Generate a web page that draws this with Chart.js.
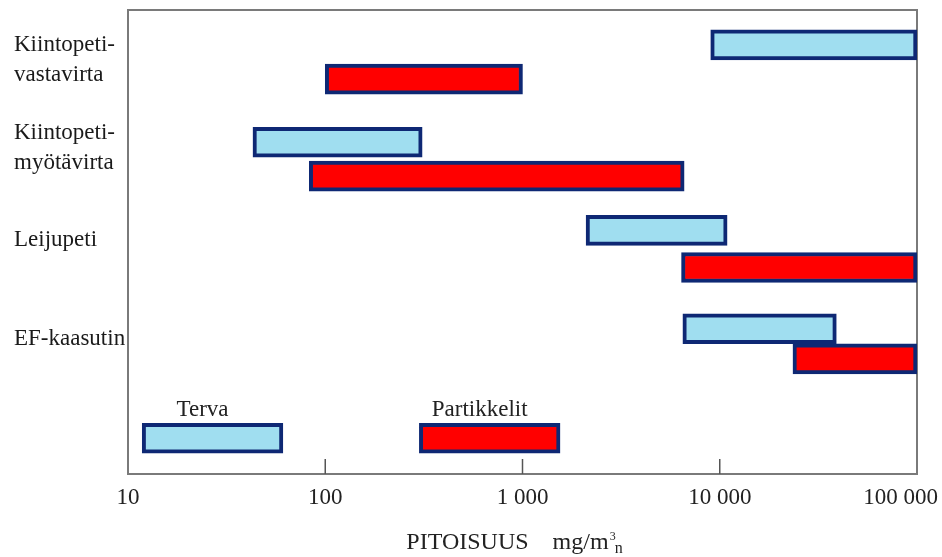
<!DOCTYPE html>
<html>
<head>
<meta charset="utf-8">
<script src="https://cdn.jsdelivr.net/npm/chart.js@4/dist/chart.umd.min.js"></script>
<style>
  html, body { margin: 0; padding: 0; background: #fff; }
  #wrap { width: 942px; height: 557px; }
</style>
</head>
<body>
<div id="wrap"><canvas id="chart"></canvas></div>
<script>
// row labels on the left and where they sit on the (reversed) row axis
const rowLabels = [["Kiintopeti-", "vastavirta"], ["Kiintopeti-", "myötävirta"], "Leijupeti", "EF-kaasutin"];
const rowLabelPos = [1.08, 2.97, 4.95, 7.08];

// tar (Terva) ranges, mg/m3n
const tarPos = [0.75, 2.85, 4.75, 6.87];
const tarRange = [[9000, 100000], [43, 310], [2100, 10900], [6500, 39000]];

// particle (Partikkelit) ranges, mg/m3n
const partPos = [1.49, 3.58, 5.55, 7.52];
const partRange = [[100, 1000], [83, 6600], [6400, 100000], [23500, 100000]];

// key bars at the bottom
const keyPos = 9.23;
const keyNames = ["Terva", "Partikkelit"];
const keyRange = [[11.8, 61], [300, 1550]];

// x axis
const xTicks = [10, 100, 1000, 10000, 100000];
const xTickLabels = ["10", "100", "1 000", "10 000", "100 000"];
const innerTicks = [100, 1000, 10000];

const SERIF = '"Liberation Serif", "Times New Roman", serif';
const navy = "#0e2874";

const tarData = tarRange.map((r, i) => ({ x: r, y: tarPos[i] }));
tarData.push({ x: keyRange[0], y: keyPos });
const partData = partRange.map((r, i) => ({ x: r, y: partPos[i] }));
partData.push({ x: keyRange[1], y: keyPos });

const framePlugin = {
  id: "frame",
  beforeDatasetsDraw(chart) {
    const { ctx, chartArea: a } = chart;
    ctx.save();
    ctx.strokeStyle = "#7a7a7a";
    ctx.lineWidth = 2;
    ctx.strokeRect(a.left, a.top, a.right - a.left, a.bottom - a.top);
    ctx.restore();
  },
  afterDraw(chart) {
    const { ctx, chartArea: a } = chart;
    const x = chart.scales.x;
    ctx.save();
    // short ticks pointing into the plot
    ctx.strokeStyle = "#555";
    ctx.lineWidth = 1.5;
    innerTicks.forEach(v => {
      const px = x.getPixelForValue(v);
      ctx.beginPath();
      ctx.moveTo(px, a.bottom);
      ctx.lineTo(px, a.bottom - 15);
      ctx.stroke();
    });
    // tick labels
    ctx.fillStyle = "#222";
    ctx.font = "23px " + SERIF;
    ctx.textAlign = "center";
    ctx.textBaseline = "middle";
    xTicks.forEach((v, i) => {
      const w = ctx.measureText(xTickLabels[i]).width;
      let px = x.getPixelForValue(v);
      px = Math.min(px, chart.width - 4 - w / 2);
      ctx.fillText(xTickLabels[i], px, a.bottom + 24);
    });
    // axis title: PITOISUUS   mg/m3n
    const base = a.bottom + 75;
    ctx.textAlign = "left";
    ctx.textBaseline = "alphabetic";
    ctx.font = "24px " + SERIF;
    const t1 = "PITOISUUS", t2 = "mg/m";
    const w1 = ctx.measureText(t1).width, w2 = ctx.measureText(t2).width;
    ctx.font = "12px " + SERIF;
    const w3 = ctx.measureText("3").width;
    ctx.font = "16px " + SERIF;
    const w4 = ctx.measureText("n").width;
    const gap = 24;
    let tx = (a.left + a.right) / 2 - 8 - (w1 + gap + w2 + w3 + w4) / 2;
    ctx.font = "24px " + SERIF;
    ctx.fillText(t1, tx, base);
    tx += w1 + gap;
    ctx.fillText(t2, tx, base);
    tx += w2 + 1;
    ctx.font = "12px " + SERIF;
    ctx.fillText("3", tx, base - 9);
    ctx.font = "16px " + SERIF;
    ctx.fillText("n", tx + w3 - 1, base + 4);
    // key labels above the key bars
    ctx.font = "23px " + SERIF;
    ctx.textAlign = "center";
    ctx.textBaseline = "bottom";
    [0, 1].forEach(d => {
      const bars = chart.getDatasetMeta(d).data;
      const bar = bars[bars.length - 1];
      const cx = (bar.x + bar.base) / 2 - 10;
      ctx.fillText(keyNames[d], cx, bar.y - bar.height / 2 - 2);
    });
    ctx.restore();
  }
};

new Chart(document.getElementById("chart"), {
  type: "bar",
  data: {
    datasets: [{
      label: "Terva",
      data: tarData,
      backgroundColor: "#a0def0",
      borderColor: navy,
      borderWidth: 4,
      borderSkipped: false
    }, {
      label: "Partikkelit",
      data: partData,
      backgroundColor: "#ff0000",
      borderColor: navy,
      borderWidth: 4,
      borderSkipped: false
    }]
  },
  options: {
    indexAxis: "y",
    responsive: true,
    maintainAspectRatio: false,
    animation: false,
    grouped: false,
    barPercentage: 1,
    categoryPercentage: 1,
    maxBarThickness: 30,
    layout: { padding: { left: 14, top: 10, right: 25, bottom: 83 } },
    plugins: { legend: { display: false }, tooltip: { enabled: false } },
    scales: {
      x: {
        type: "logarithmic",
        min: 10,
        max: 100000,
        display: false
      },
      y: {
        type: "linear",
        min: 0,
        max: 10,
        reverse: true,
        offset: false,
        grid: { display: false, offset: false },
        border: { display: false },
        afterBuildTicks: s => { s.ticks = rowLabelPos.map(v => ({ value: v })); },
        afterFit: s => { s.width = 114; s.paddingTop = 0; s.paddingBottom = 0; },
        ticks: {
          crossAlign: "far",
          color: "#1a1a1a",
          font: { family: SERIF, size: 23, lineHeight: 1.3 },
          callback: (v, i) => rowLabels[i]
        }
      }
    }
  },
  plugins: [framePlugin]
});
</script>
</body>
</html>
